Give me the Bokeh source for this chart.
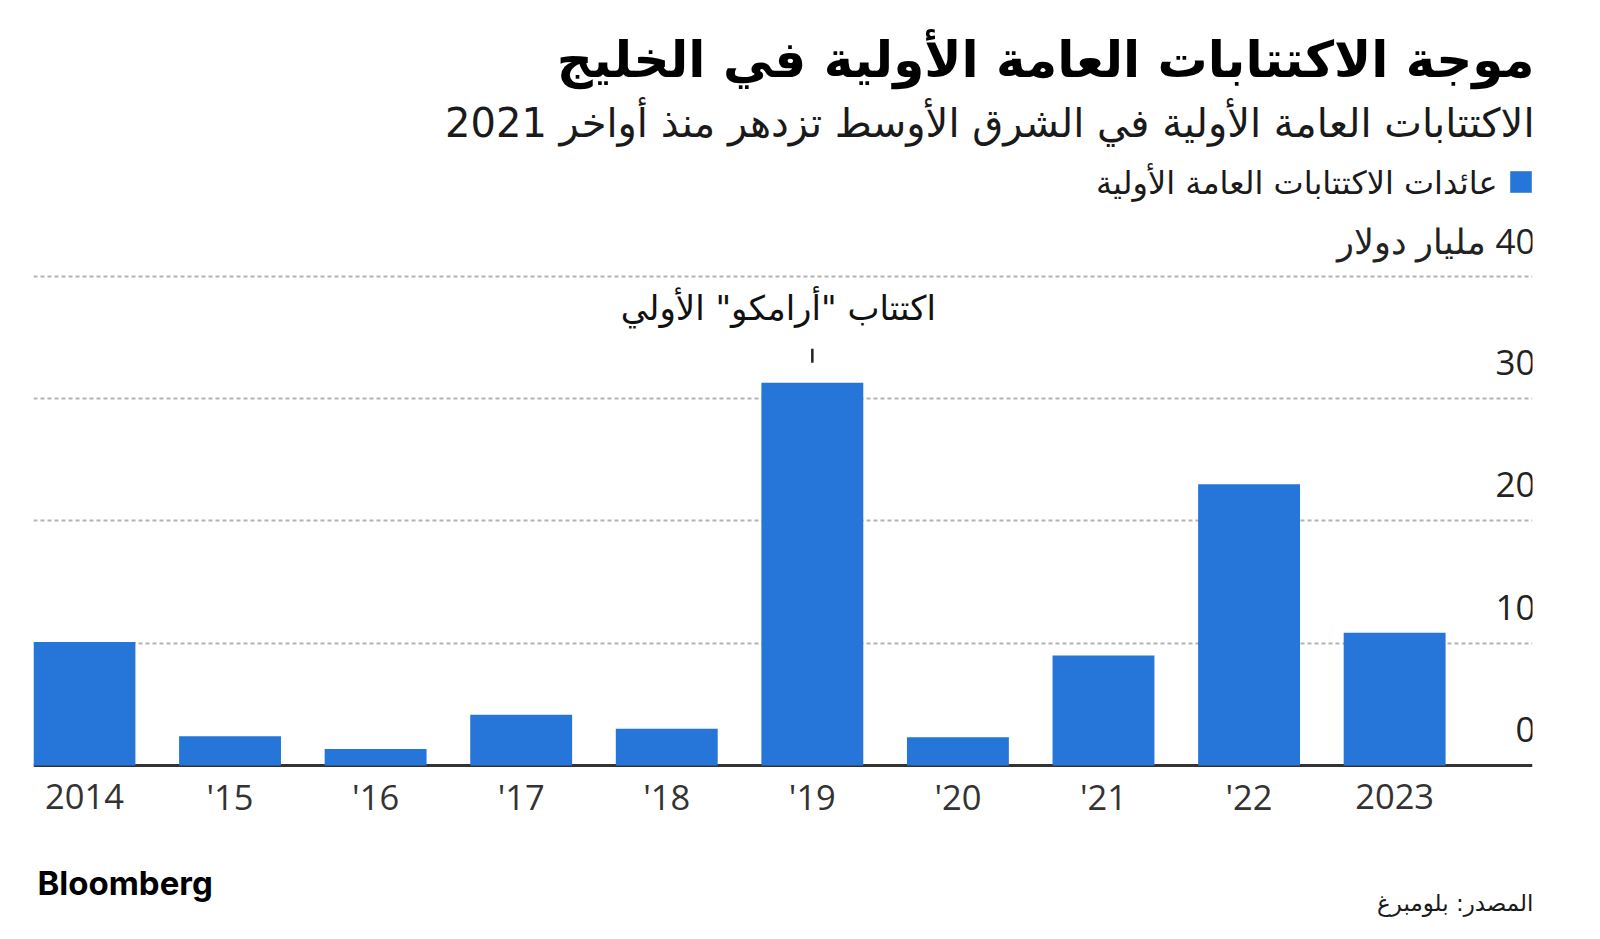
from bokeh.plotting import figure
from bokeh.models import Range1d, FixedTicker, Span, Label, ColumnDataSource, Legend, LegendItem
from bokeh.core.properties import value
from bokeh.embed import file_html
from bokeh.resources import INLINE

# ---------------- data ----------------
YEARS = ["2014", "'15", "'16", "'17", "'18", "'19", "'20", "'21", "'22", "2023"]
IPO_PROCEEDS = [10.1, 2.4, 1.35, 4.15, 3.0, 31.3, 2.3, 9.0, 23.0, 10.85]  # billion USD
Y_TICKS = [0, 10, 20, 30, 40]
Y_TICK_LABELS = ["0", "10", "20", "30", "\u200f40 مليار دولار"]
TITLE = "موجة الاكتتابات العامة الأولية في الخليج"
SUBTITLE = "الاكتتابات العامة الأولية في الشرق الأوسط تزدهر منذ أواخر 2021"
SERIES_NAME = "عائدات الاكتتابات العامة الأولية"
ANNOTATION_YEAR = "'19"
ANNOTATION_TEXT = 'اكتتاب "أرامكو" الأولي'
SOURCE = "المصدر: بلومبرغ"
BRAND = "Bloomberg"

# ---------------- layout ----------------
W, H = 1600, 939
BORDER_L, BORDER_R = 33, 68
PX_PER_UNIT = 12.23
ZERO_PX = H - 765  # baseline distance from frame bottom
X_START, X_END = -0.35, 9.947
Y_START = -ZERO_PX / PX_PER_UNIT
Y_END = (H - ZERO_PX) / PX_PER_UNIT
FRAME_W = W - BORDER_L - BORDER_R

BAR_COLOR = "#2676D9"
ARABIC_FONT = "DejaVu Sans"
NUM_FONT = "Open Sans"

p = figure(width=W, height=H, x_range=Range1d(X_START, X_END), y_range=Range1d(Y_START, Y_END),
           output_backend="svg", toolbar_location=None,
           x_axis_location=None, y_axis_location=None,
           min_border_left=BORDER_L, min_border_right=BORDER_R,
           min_border_top=0, min_border_bottom=0,
           background_fill_color="white", border_fill_color="white", outline_line_color=None)

p.xgrid.visible = False
p.ygrid.ticker = FixedTicker(ticks=Y_TICKS[1:])
p.ygrid.grid_line_color = "#b3b3b3"
p.ygrid.grid_line_dash = "4 3"
p.ygrid.grid_line_width = 2

baseline = Span(location=Y_TICKS[0], dimension="width", line_color="#333333", line_width=3, level="underlay")
p.add_layout(baseline)

src = ColumnDataSource(dict(x=list(range(len(YEARS))), year=YEARS, value=IPO_PROCEEDS))
bars = p.vbar(x="x", top="value", bottom=0, width=0.7, source=src,
              fill_color=BAR_COLOR, line_color=None)

# x tick labels
p.text(x="x", y=0, text="year", source=src, text_align="center", text_baseline="alphabetic",
       y_offset=31, text_font=value(NUM_FONT), text_font_size=value("34.5px"), text_color="#333333")

# y tick labels (inside plot, above grid lines, at right)
ysrc = ColumnDataSource(dict(y=Y_TICKS, label=Y_TICK_LABELS, x=[X_END] * len(Y_TICKS)))
p.text(x="x", y="y", text="label", source=ysrc, text_align="right", text_baseline="alphabetic",
       y_offset=-36, x_offset=3, text_font=value(NUM_FONT), text_font_size=value("35px"),
       text_color="#222222")

# annotation for Aramco
ai = YEARS.index(ANNOTATION_YEAR)
av = IPO_PROCEEDS[ai]
p.text(x=[ai], y=[av], text=[ANNOTATION_TEXT], text_align="center", text_baseline="alphabetic",
       x_offset=-34, y_offset=-75, text_font=value(ARABIC_FONT), text_font_size=value("34px"),
       text_color="#111111")
p.segment(x0=[ai], y0=[av + 20 / PX_PER_UNIT], x1=[ai], y1=[av + 34 / PX_PER_UNIT],
          line_color="#222222", line_width=2.5)

# legend swatch (RTL: swatch on the right of the label)
legend = Legend(items=[LegendItem(label=value(" "), renderers=[bars])],
                location=(1506.5 - BORDER_L, H - 195), border_line_color=None, background_fill_alpha=0,
                padding=0, margin=0, spacing=0, label_standoff=0, label_width=0,
                label_height=27, glyph_width=27, glyph_height=27, label_text_font_size="1px")
p.add_layout(legend)

def lab(text, x_ref, y_ref, size, align="right", font=ARABIC_FONT, style="normal", color="#111111"):
    p.add_layout(Label(x=x_ref - BORDER_L, y=H - y_ref, x_units="screen", y_units="screen", text=text,
                       text_align=align, text_baseline="alphabetic", text_font=font,
                       text_font_size=size, text_font_style=style, text_color=color))

lab(TITLE, 1534, 59, "50px", style="bold", color="#000000")
lab(SUBTITLE, 1534, 122, "40px", color="#1a1a1a")
lab(SERIES_NAME, 1497, 182, "32px", color="#1a1a1a")
lab(BRAND, 37, 882, "33px", align="left", font="Inter", style="bold", color="#000000")
lab(SOURCE, 1533, 902, "23px", color="#1a1a1a")

open("out.html", "w").write(file_html(p, INLINE))
